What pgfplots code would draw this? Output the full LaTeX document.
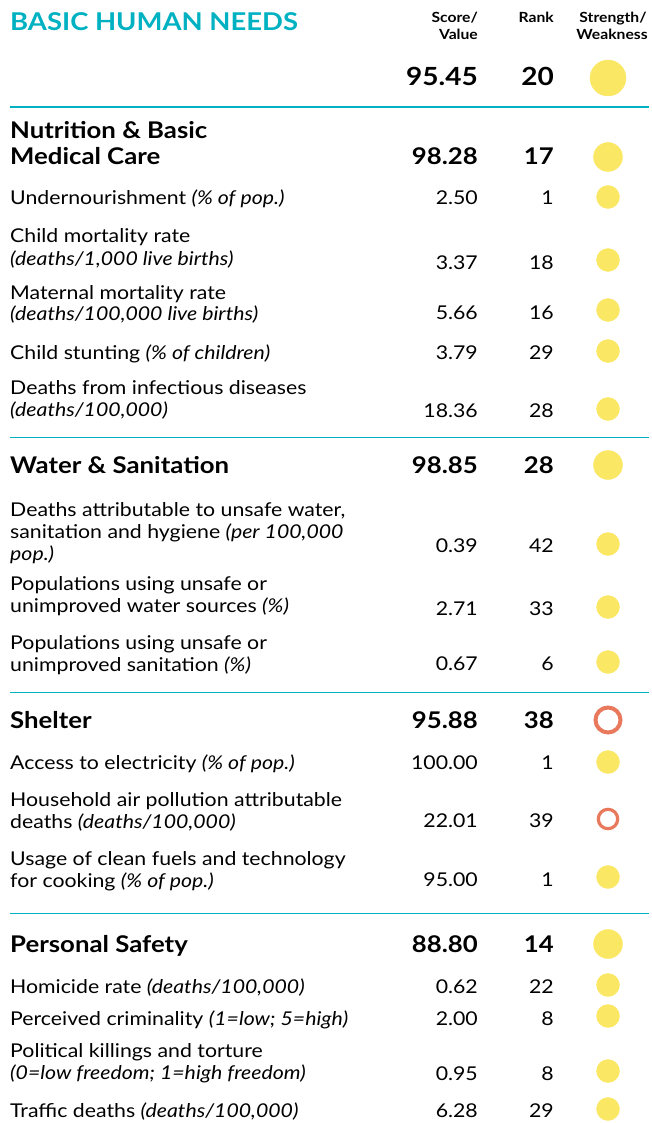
\documentclass[border=0pt]{standalone}
\usepackage{pgfplots}
\pgfplotsset{compat=1.18}
\usepackage{fontspec}
\setmainfont{Lato}[FakeStretch=1.12]
\definecolor{teal1}{RGB}{0,177,194}
\definecolor{yel}{RGB}{250,231,99}
\definecolor{salm}{RGB}{232,121,92}
\newcommand\fb{\fontsize{19}{22}\selectfont}
\newcommand\fh{\fontsize{23}{26}\bfseries\selectfont}
\newcommand\lbl[2]{\node[anchor=base west,inner sep=0pt,font=\fb] at (axis cs:10,#1) {#2};}
\newcommand\hd[2]{\node[anchor=base west,inner sep=0pt,font=\fh] at (axis cs:10,#1) {#2};}
\newcommand\val[3]{\node[anchor=base east,inner sep=0pt,font=\fb] at (axis cs:478,#1) {#2};
  \node[anchor=base east,inner sep=0pt,font=\fb] at (axis cs:554,#1) {#3};}
\newcommand\hval[3]{\node[anchor=base east,inner sep=0pt,font=\fh] at (axis cs:478,#1) {#2};
  \node[anchor=base east,inner sep=0pt,font=\fh] at (axis cs:554,#1) {#3};}
\begin{document}
\begin{tikzpicture}
\begin{axis}[
  scale only axis, width=651pt, height=1123pt,
  xmin=0, xmax=651, ymin=0, ymax=1123, y dir=reverse,
  hide axis, clip=false]
\path (axis cs:0,0) rectangle (axis cs:651,1123);
% header
\node[anchor=base west,inner sep=0pt,text=teal1,font=\fontsize{24.5}{28}\bfseries\selectfont] at (axis cs:10,31) {BASIC HUMAN NEEDS};
\node[anchor=base east,inner sep=0pt,font=\fontsize{14}{15}\bfseries\selectfont] at (axis cs:478,23) {Score/};
\node[anchor=base east,inner sep=0pt,font=\fontsize{14}{15}\bfseries\selectfont] at (axis cs:478,40) {Value};
\node[anchor=base east,inner sep=0pt,font=\fontsize{14}{15}\bfseries\selectfont] at (axis cs:554,23) {Rank};
\node[anchor=base,inner sep=0pt,font=\fontsize{14}{15}\bfseries\selectfont] at (axis cs:613,23) {Strength/};
\node[anchor=base,inner sep=0pt,font=\fontsize{14}{15}\bfseries\selectfont] at (axis cs:612,40) {Weakness};
\node[anchor=base east,inner sep=0pt,font=\fontsize{25}{30}\bfseries\selectfont] at (axis cs:478,86) {95.45};
\node[anchor=base east,inner sep=0pt,font=\fontsize{25}{30}\bfseries\selectfont] at (axis cs:554,86) {20};
% separators
\addplot[teal1, line width=2.2pt] coordinates {(10,107) (649,107)};
\addplot[teal1, line width=1pt] coordinates {(10,437) (649,437)};
\addplot[teal1, line width=1pt] coordinates {(10,692) (649,692)};
\addplot[teal1, line width=1pt] coordinates {(10,913) (649,913)};
% Nutrition
\hd{139}{Nutrition \& Basic}
\hd{165}{Medical Care}
\hval{165}{98.28}{17}
\lbl{205}{Undernourishment \textit{(\% of pop.)}}
\val{205}{2.50}{1}
\lbl{243}{Child mortality rate}
\lbl{265}{\textit{(deaths/1,000 live births)}}
\val{269}{3.37}{18}
\lbl{299}{Maternal mortality rate}
\lbl{320}{\textit{(deaths/100,000 live births)}}
\val{319}{5.66}{16}
\lbl{359}{Child stunting \textit{(\% of children)}}
\val{359}{3.79}{29}
\lbl{394}{Deaths from infectious diseases}
\lbl{416}{\textit{(deaths/100,000)}}
\val{417}{18.36}{28}
% Water
\hd{473}{Water \& Sanitation}
\hval{473}{98.85}{28}
\lbl{516}{Deaths attributable to unsafe water,}
\lbl{538}{sanitation and hygiene \textit{(per 100,000}}
\lbl{560}{\textit{pop.)}}
\val{552}{0.39}{42}
\lbl{590}{Populations using unsafe or}
\lbl{612}{unimproved water sources \textit{(\%)}}
\val{615}{2.71}{33}
\lbl{649}{Populations using unsafe or}
\lbl{671}{unimproved sanitation \textit{(\%)}}
\val{670}{0.67}{6}
% Shelter
\hd{728}{Shelter}
\hval{728}{95.88}{38}
\lbl{769}{Access to electricity \textit{(\% of pop.)}}
\val{769}{100.00}{1}
\lbl{806}{Household air pollution attributable}
\lbl{828}{deaths \textit{(deaths/100,000)}}
\val{827}{22.01}{39}
\lbl{865}{Usage of clean fuels and technology}
\lbl{887}{for cooking \textit{(\% of pop.)}}
\val{886}{95.00}{1}
% Personal safety
\hd{952}{Personal Safety}
\hval{952}{88.80}{14}
\lbl{993}{Homicide rate \textit{(deaths/100,000)}}
\val{993}{0.62}{22}
\lbl{1025}{Perceived criminality \textit{(1=low; 5=high)}}
\val{1025}{2.00}{8}
\lbl{1057}{Political killings and torture}
\lbl{1079}{\textit{(0=low freedom; 1=high freedom)}}
\val{1080}{0.95}{8}
\lbl{1117}{Traffic deaths \textit{(deaths/100,000)}}
\val{1117}{6.28}{29}
% circles
\addplot[only marks, mark=*, mark size=18pt, color=yel] coordinates {(608,78)};
\addplot[only marks, mark=*, mark size=14.5pt, color=yel] coordinates {(608,157) (608,465) (608,944)};
\addplot[only marks, mark=*, mark size=11.5pt, color=yel] coordinates {
 (608,197) (608,260) (608,310) (608,351) (608,409)
 (608,544) (608,607) (608,662)
 (608,762) (608,877)
 (608,985) (608,1016) (608,1071) (608,1109)};
\addplot[only marks, mark=o, mark size=12.5pt, color=salm, line width=4pt] coordinates {(608,720)};
\addplot[only marks, mark=o, mark size=9.7pt, color=salm, line width=3.2pt] coordinates {(608,819)};
\end{axis}
\end{tikzpicture}
\end{document}
